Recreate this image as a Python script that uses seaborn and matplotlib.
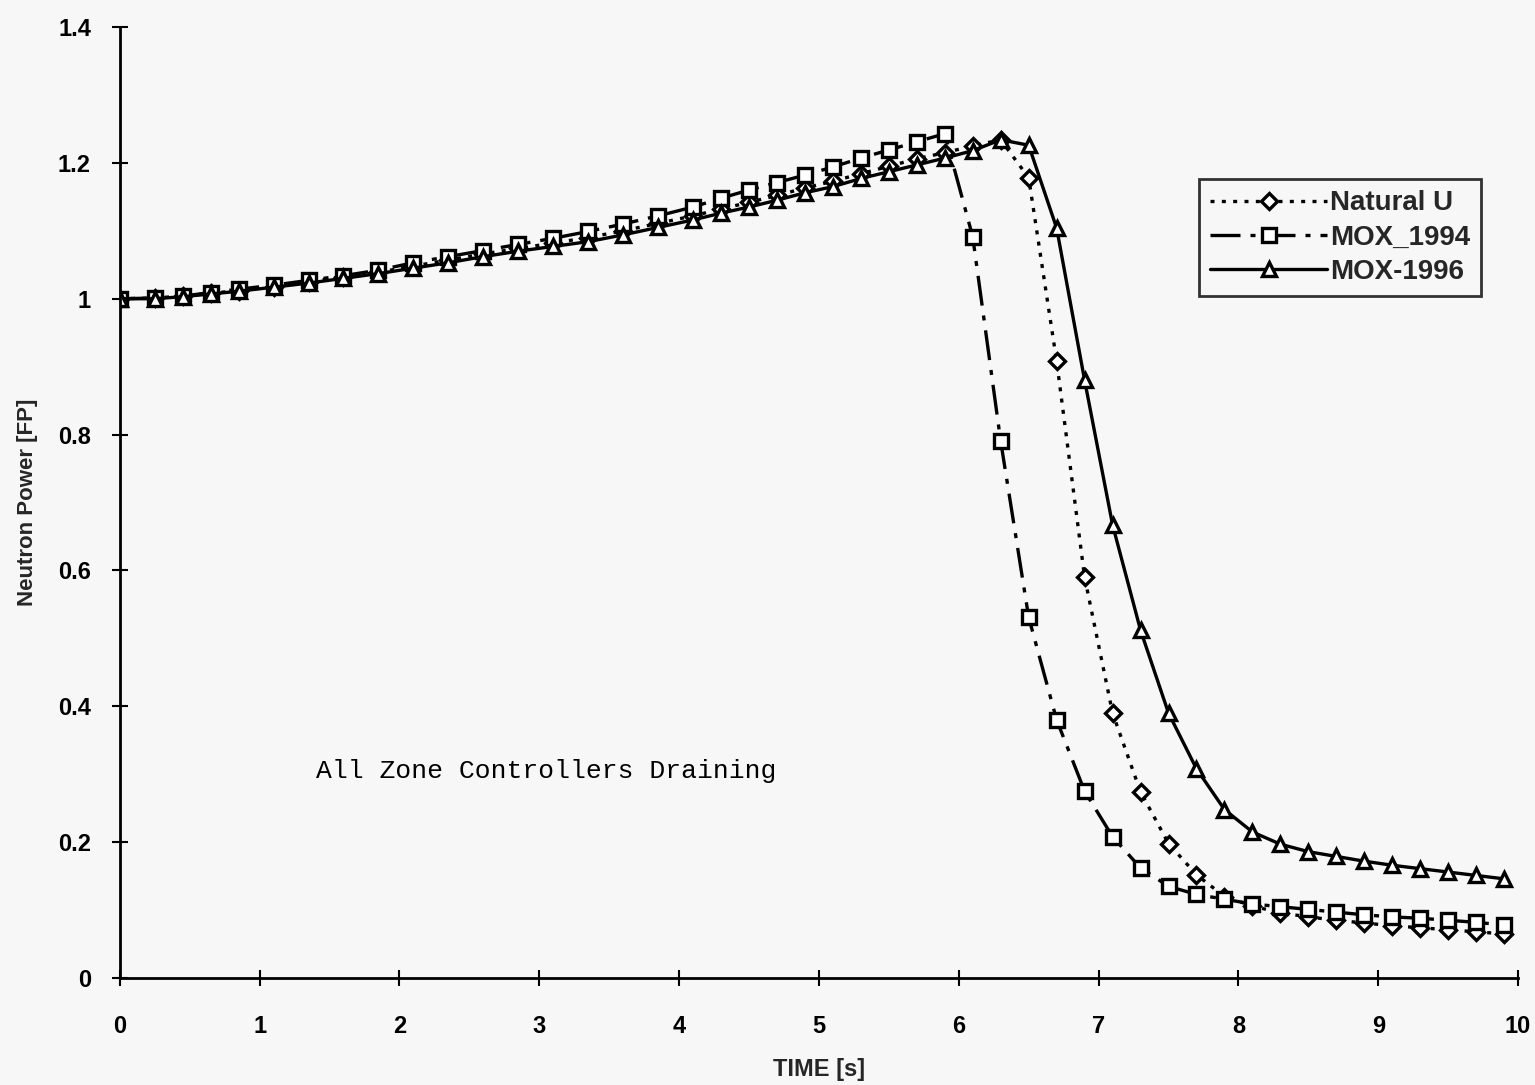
import numpy as np
import pandas as pd
import matplotlib
matplotlib.use("Agg")
import matplotlib.pyplot as plt
import seaborn as sns

# ---- data ----
time_s = [0, 0.25, 0.45, 0.65, 0.85, 1.1, 1.35, 1.6, 1.85, 2.1, 2.35, 2.6, 2.85,
          3.1, 3.35, 3.6, 3.85, 4.1, 4.3, 4.5, 4.7, 4.9, 5.1, 5.3, 5.5, 5.7, 5.9,
          6.1, 6.3, 6.5, 6.7, 6.9, 7.1, 7.3, 7.5, 7.7, 7.9, 8.1, 8.3, 8.5, 8.7,
          8.9, 9.1, 9.3, 9.5, 9.7, 9.9]

natural_u = [1.000, 1.001, 1.004, 1.008, 1.012, 1.018, 1.025, 1.032, 1.039, 1.048,
             1.057, 1.066, 1.074, 1.082, 1.090, 1.100, 1.111, 1.122, 1.132, 1.142,
             1.152, 1.163, 1.173, 1.184, 1.195, 1.206, 1.215, 1.225, 1.234, 1.178,
             0.908, 0.590, 0.390, 0.274, 0.198, 0.152, 0.120, 0.106, 0.096, 0.090,
             0.085, 0.081, 0.077, 0.074, 0.071, 0.068, 0.065]

mox_1994 = [1.000, 1.001, 1.004, 1.009, 1.014, 1.020, 1.027, 1.034, 1.042, 1.053,
            1.062, 1.071, 1.080, 1.089, 1.099, 1.110, 1.122, 1.135, 1.148, 1.160,
            1.171, 1.182, 1.194, 1.207, 1.219, 1.231, 1.243, 1.091, 0.790, 0.531,
            0.380, 0.275, 0.208, 0.162, 0.135, 0.123, 0.116, 0.109, 0.105, 0.101,
            0.097, 0.093, 0.090, 0.088, 0.085, 0.082, 0.078]

mox_1996 = [1.000, 1.000, 1.003, 1.007, 1.011, 1.017, 1.023, 1.030, 1.037, 1.045,
            1.053, 1.062, 1.070, 1.077, 1.084, 1.094, 1.105, 1.116, 1.126, 1.135,
            1.145, 1.156, 1.165, 1.177, 1.187, 1.197, 1.207, 1.218, 1.234, 1.226,
            1.104, 0.880, 0.667, 0.512, 0.390, 0.308, 0.248, 0.215, 0.197, 0.186,
            0.179, 0.172, 0.166, 0.161, 0.156, 0.151, 0.146]

series_names = ["Natural U", "MOX_1994", "MOX-1996"]
x_ticks = [0, 1, 2, 3, 4, 5, 6, 7, 8, 9, 10]
y_ticks = [0, 0.2, 0.4, 0.6, 0.8, 1.0, 1.2, 1.4]
y_tick_labels = ["0", "0.2", "0.4", "0.6", "0.8", "1", "1.2", "1.4"]
annotation = "All Zone Controllers Draining"

df = pd.DataFrame({"t": time_s, "Natural U": natural_u,
                   "MOX_1994": mox_1994, "MOX-1996": mox_1996})

sns.set_style("white")
label_font = ["Liberation Sans Narrow", "Liberation Sans", "DejaVu Sans"]
plt.rcParams["font.family"] = label_font

bg = "#f7f7f7"
fig = plt.figure(figsize=(15.35, 10.85), dpi=100)
fig.patch.set_facecolor(bg)
ax = fig.add_axes([0.078, 0.0986, 0.911, 0.8765])
ax.set_facecolor(bg)

styles = {
    "Natural U": dict(marker="D", markersize=8, linestyle=(0, (1.2, 2.2))),
    "MOX_1994": dict(marker="s", markersize=10, linestyle=(0, (9, 3, 1.5, 3))),
    "MOX-1996": dict(marker="^", markersize=10, linestyle="-"),
}

for name in series_names:
    st = styles[name]
    sns.lineplot(data=df, x="t", y=name, ax=ax, color="black", linewidth=2.4,
                 marker=st["marker"], markersize=st["markersize"],
                 markerfacecolor="white", markeredgecolor="black",
                 markeredgewidth=2.4, linestyle=st["linestyle"], label=name)

ax.set_xlim(0, 10)
ax.set_ylim(0, 1.4)
ax.set_xticks(x_ticks)
ax.set_xticklabels([str(v) for v in x_ticks])
ax.set_yticks(y_ticks)
ax.set_yticklabels(y_tick_labels)

for sp in ["top", "right"]:
    ax.spines[sp].set_visible(False)
for sp in ["left", "bottom"]:
    ax.spines[sp].set_linewidth(2)
    ax.spines[sp].set_color("black")

ax.tick_params(axis="both", which="major", direction="inout", length=11.5,
               width=1.5, colors="black", labelsize=17, bottom=True, left=True)
ax.tick_params(axis="x", pad=21)
ax.tick_params(axis="y", pad=15)
for lab in ax.get_xticklabels() + ax.get_yticklabels():
    lab.set_fontweight("bold")

ax.set_xlabel("TIME [s]", fontsize=17, fontweight="bold", labelpad=14)
ax.set_ylabel("Neutron Power [FP]", fontsize=16, fontweight="bold", labelpad=14)

ax.text(1.4, 0.305, annotation, family=["Liberation Mono", "DejaVu Sans Mono"],
        fontsize=19, color="black", va="center", ha="left")

leg = ax.legend(loc="upper left", bbox_to_anchor=(0.772, 0.840), frameon=True,
                fancybox=False, edgecolor="black", facecolor=bg,
                prop={"family": label_font, "weight": "bold", "size": 20},
                handlelength=4.2, handletextpad=0.1, borderpad=0.4,
                labelspacing=0.3, borderaxespad=0)
leg.get_frame().set_linewidth(2)

fig.savefig("out.png", dpi=100, facecolor=fig.get_facecolor())
